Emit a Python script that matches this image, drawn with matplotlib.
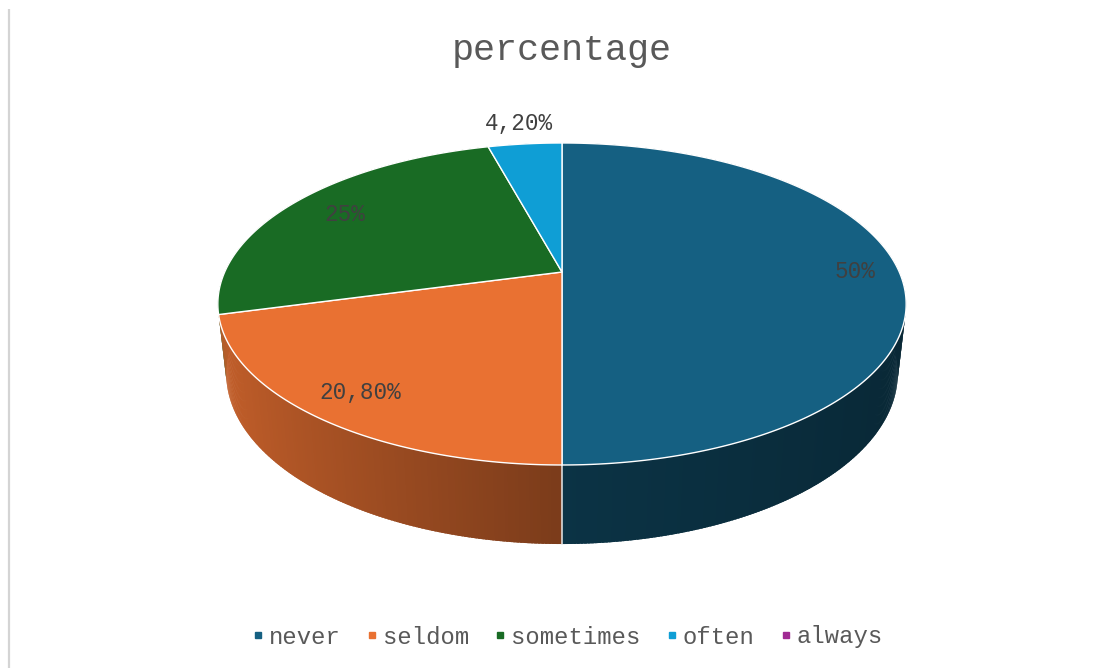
import numpy as np
import matplotlib
matplotlib.use("Agg")
import matplotlib.pyplot as plt
from matplotlib.collections import PolyCollection
from matplotlib.patches import Polygon
from matplotlib.lines import Line2D

# ---- data ----
categories = ["never", "seldom", "sometimes", "often", "always"]
values = [50, 20.8, 25, 4.2, 0]
value_labels = ["50%", "20,80%", "25%", "4,20%", "0%"]
colors = ["#156082", "#E97132", "#196B24", "#0F9ED5", "#A02B93"]
title = "percentage"

# label placement (radius as fraction of pie radius)
label_radius = [0.87, 0.85, 0.80, 1.2, 0.85]

FONT = ["Liberation Mono", "DejaVu Sans Mono"]

# ---- 3D perspective pie geometry ----
W, H = 1105, 668
CX, CY = 562.0, 272.0
F = 1508.7
L = 4.473
SP = 0.4585
CP = np.sqrt(1 - SP ** 2)
THICK = 0.233


def proj(x, y, z):
    depth = L + z * CP - y * SP
    up = y * CP + z * SP
    return CX + F * x / depth, CY - F * up / depth, depth


def shade(hexcol, cos_t):
    rgb = np.array(matplotlib.colors.to_rgb(hexcol))
    if cos_t < 0:
        f = 0.53 - 0.32 * cos_t
    else:
        f = 0.53 - 0.12 * cos_t
    return tuple(np.clip(rgb * f, 0, 1))


fig = plt.figure(figsize=(W / 100, H / 100), dpi=100)
ax = fig.add_axes([0, 0, 1, 1])
ax.set_xlim(0, W)
ax.set_ylim(H, 0)
ax.axis("off")

# left border line
ax.plot([9, 9], [9, H], color="#d4d4d4", lw=1.6, solid_capstyle="butt")

total = sum(values)
cum = np.concatenate([[0], np.cumsum(values)]) / total
starts = np.deg2rad(90 - 360 * cum[:-1])
ends = np.deg2rad(90 - 360 * cum[1:])

# walls (slightly overlapping strips to avoid seams)
quads, qcols, qdepth = [], [], []
for i, v in enumerate(values):
    if v <= 0:
        continue
    n = max(int(abs(np.rad2deg(ends[i] - starts[i])) * 2), 2)
    th = np.linspace(starts[i], ends[i], n + 1)
    step = th[1] - th[0]
    for k, (a, b) in enumerate(zip(th[:-1], th[1:])):
        bb = b + 0.8 * step if k < n - 1 else b
        xa, za, xb, zb = np.cos(a), np.sin(a), np.cos(bb), np.sin(bb)
        p1 = proj(xa, 0, za)
        p2 = proj(xb, 0, zb)
        p3 = proj(xb, -THICK, zb)
        p4 = proj(xa, -THICK, za)
        quads.append([p1[:2], p2[:2], p3[:2], p4[:2]])
        m = 0.5 * (a + b)
        qcols.append(shade(colors[i], np.cos(m)))
        qdepth.append((p1[2] + p2[2] + p3[2] + p4[2]) / 4)
order = np.argsort(qdepth)[::-1]
pc = PolyCollection([quads[k] for k in order], facecolors=[qcols[k] for k in order],
                    edgecolors="none", linewidths=0)
ax.add_collection(pc)

# seams on the visible wall at slice boundaries
for b in starts:
    xb, zb = np.cos(b), np.sin(b)
    if zb < -0.3:
        t = proj(xb, 0, zb)
        bt = proj(xb, -THICK, zb)
        ax.plot([t[0], bt[0]], [t[1], bt[1]], color="#e8e8e8", lw=1.1, zorder=3)

# top faces
for i, v in enumerate(values):
    if v <= 0:
        continue
    n = max(int(abs(np.rad2deg(ends[i] - starts[i])) * 2), 2)
    th = np.linspace(starts[i], ends[i], n + 1)
    pts = [proj(0, 0, 0)[:2]] + [proj(np.cos(t), 0, np.sin(t))[:2] for t in th]
    ax.add_patch(Polygon(pts, closed=True, facecolor=colors[i], edgecolor="white",
                         lw=1.0, joinstyle="round", zorder=4))

# data labels
for i, v in enumerate(values):
    if v <= 0:
        continue
    mid = 0.5 * (starts[i] + ends[i])
    r = label_radius[i]
    lx, ly, _ = proj(r * np.cos(mid), 0, r * np.sin(mid))
    ax.text(lx, ly, value_labels[i], ha="center", va="center", fontsize=16.3,
            family=FONT, color="#404040", zorder=6)

# title
ax.text(562, 51, title, ha="center", va="center", fontsize=26.5, family=FONT,
        color="#595959")

# legend
handles = [Line2D([], [], marker="s", linestyle="none", markersize=5,
                  markerfacecolor=c, markeredgecolor=c) for c in colors]
ax.legend(handles, categories, loc="center", bbox_to_anchor=(0.5135, 1 - 637 / H),
          ncol=5, frameon=False, handlelength=0.5, handletextpad=0.2,
          columnspacing=1.06, prop={"family": FONT, "size": 17.2},
          labelcolor="#595959", borderaxespad=0)

fig.savefig("out.png", dpi=100)
